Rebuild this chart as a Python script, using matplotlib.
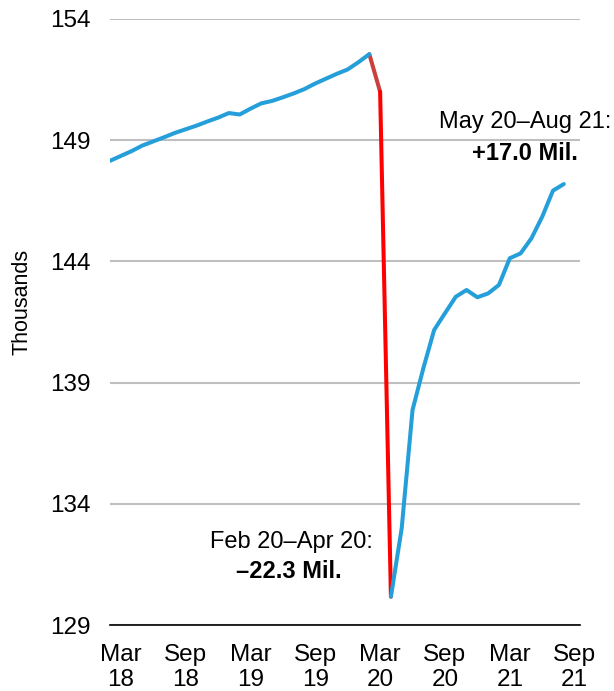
import matplotlib
matplotlib.use("Agg")
import matplotlib.pyplot as plt
import numpy as np

plt.rcParams['font.family'] = ['Liberation Sans', 'DejaVu Sans']

# Monthly employment, Feb 2018 .. Aug 2021 (millions, axis labelled "Thousands")
pre_values = [148.15, 148.35, 148.55, 148.78, 148.95, 149.12, 149.30, 149.45,
              149.60, 149.77, 149.93, 150.12, 150.06, 150.30, 150.52, 150.62,
              150.77, 150.93, 151.11, 151.34, 151.54, 151.74, 151.92, 152.22,
              152.55]                      # Feb18 .. Feb20
drop_values = [152.55, 151.0, 130.17]      # Feb20, Mar20, Apr20
post_values = [130.17, 133.0, 137.87, 139.59, 141.17, 141.86, 142.54, 142.82,
               142.52, 142.68, 143.03, 144.13, 144.33, 144.95, 145.84, 146.92,
               147.19]                     # Apr20 .. Aug21

tick_positions = [1, 7, 13, 19, 25, 31, 37, 43]
tick_labels = ["Mar\n18", "Sep\n18", "Mar\n19", "Sep\n19",
               "Mar\n20", "Sep\n20", "Mar\n21", "Sep\n21"]
y_ticks = [129, 134, 139, 144, 149, 154]

blue = '#259FD9'
dark_red = '#C9403F'
bright_red = '#FF0000'

fig = plt.figure(figsize=(6.14, 6.91), dpi=100)
ax = fig.add_axes([110/614, 1-625/691, 470/614, (625-19)/691])

x_pre = np.arange(len(pre_values))
x_drop = np.arange(len(drop_values)) + 24
x_post = np.arange(len(post_values)) + 26

lw = 2.9
ax.plot(x_drop[:2], drop_values[:2], color=dark_red, lw=lw,
        solid_capstyle='round', solid_joinstyle='round', zorder=3)
ax.plot(x_drop[1:], drop_values[1:], color=bright_red, lw=lw,
        solid_capstyle='round', solid_joinstyle='round', zorder=3)
ax.plot(x_pre, pre_values, color=blue, lw=lw,
        solid_capstyle='round', solid_joinstyle='round', zorder=4)
ax.plot(x_post, post_values, color=blue, lw=lw,
        solid_capstyle='round', solid_joinstyle='round', zorder=4)

ax.set_xlim(0, 43.5)
ax.set_ylim(129, 154)
ax.set_yticks(y_ticks)
ax.set_xticks(tick_positions)
ax.set_xticklabels(tick_labels, linespacing=1.15)
ax.tick_params(axis='both', length=0, labelsize=17.5, colors='black')
ax.tick_params(axis='y', pad=14)
ax.tick_params(axis='x', pad=14)

ax.yaxis.grid(True, color='#BFBFBF', lw=1.5)
ax.set_axisbelow(True)
for s in ['top', 'right', 'left']:
    ax.spines[s].set_visible(False)
ax.spines['bottom'].set_color('black')
ax.spines['bottom'].set_linewidth(1.2)
ax.spines['bottom'].set_zorder(5)

fig.text(22/614, 1-302/691, "Thousands", rotation=90, ha='center', va='center',
         fontsize=15.5)

ax.text(291/614, 1-542/691, "Feb 20\u2013Apr 20:", transform=fig.transFigure,
        ha='center', va='center', fontsize=17)
ax.text(289/614, 1-571/691, "\u201322.3 Mil.", transform=fig.transFigure,
        ha='center', va='center', fontsize=17, fontweight='bold')
ax.text(525/614, 1-122/691, "May 20\u2013Aug 21:", transform=fig.transFigure,
        ha='center', va='center', fontsize=17)
ax.text(525/614, 1-153/691, "+17.0 Mil.", transform=fig.transFigure,
        ha='center', va='center', fontsize=17, fontweight='bold')

fig.savefig("out.png", dpi=100)
